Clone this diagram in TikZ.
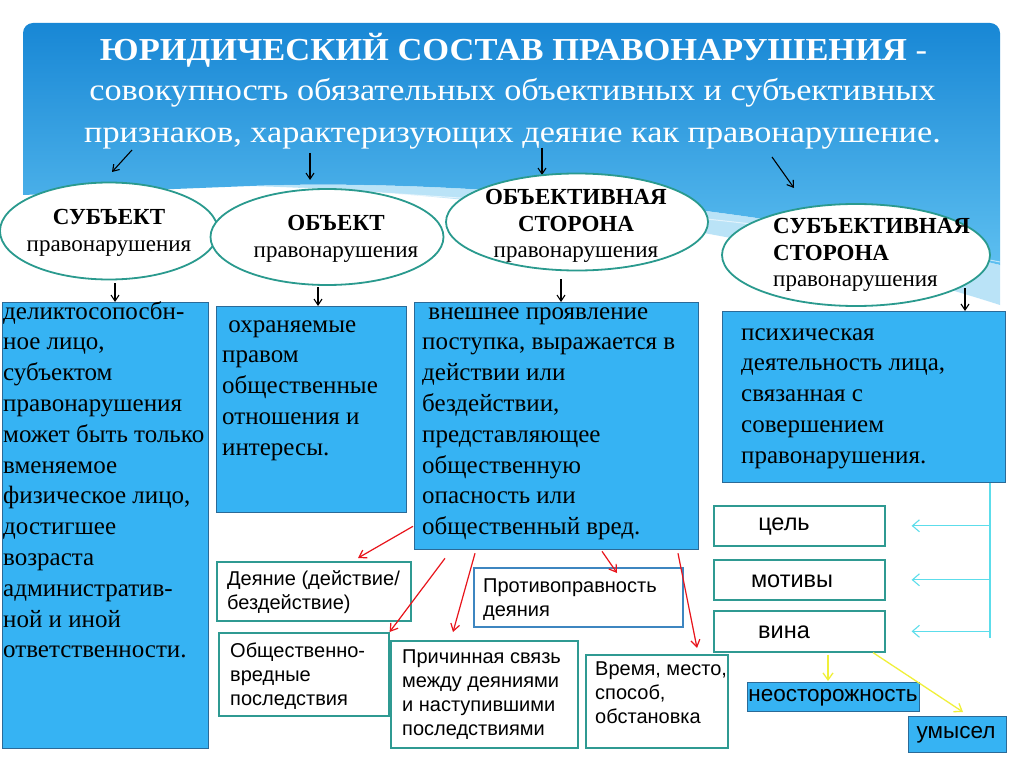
\documentclass[tikz,border=0pt]{standalone}
\usepackage{fontspec}
\setmainfont{Liberation Serif}
\setsansfont{Liberation Sans}
\usetikzlibrary{arrows.meta,shapes.geometric,calc}
\definecolor{panelTop}{HTML}{1887D5}
\definecolor{panelBot}{HTML}{5DBFF0}
\definecolor{bandBlue}{HTML}{9ED8F5}
\definecolor{boxBlue}{HTML}{36B3F3}
\definecolor{boxBorder}{HTML}{2B6A97}
\definecolor{ellTeal}{HTML}{2A9A8E}
\definecolor{wTeal}{HTML}{2F9A92}
\definecolor{wBlue}{HTML}{3E86C0}
\definecolor{redArrow}{HTML}{E8141B}
\definecolor{cyanArrow}{HTML}{5CDDEB}
\definecolor{yellowArrow}{HTML}{F0F03A}
\tikzset{
  ell/.style={ellipse, draw=ellTeal, line width=1.8pt, fill=white, inner sep=0pt},
  bluebox/.style={rectangle, draw=boxBorder, line width=1.3pt, fill=boxBlue, inner sep=0pt, anchor=north west},
  wbox/.style={rectangle, draw=wTeal, line width=1.6pt, fill=white, inner sep=0pt, anchor=north west},
  stext/.style={font=\fontsize{25}{30.8}\selectfont, align=left, inner sep=0pt, anchor=north west},
  etext/.style={font=\fontsize{23}{26.5}\selectfont, inner sep=0pt},
  wtext/.style={font=\sffamily\fontsize{20}{24}\selectfont, align=left, inner sep=0pt, anchor=north west},
  ctext/.style={font=\sffamily\fontsize{23.5}{27}\selectfont, inner sep=0pt},
  ftext/.style={font=\sffamily\fontsize{22.5}{26}\selectfont, inner sep=0pt},
  ttext/.style={text=white, inner sep=0pt, anchor=base},
  blk/.style={draw=black, line width=1.1pt, -{Straight Barb[length=6pt,width=8pt]}},
  redar/.style={draw=redArrow, line width=1.2pt, -{Straight Barb[length=7pt,width=9pt]}},
  cyanar/.style={draw=cyanArrow, line width=1.1pt, -{Straight Barb[length=7pt,width=12pt]}},
  cyanln/.style={draw=cyanArrow, line width=1.1pt},
  yelar/.style={draw=yellowArrow, line width=1.3pt, -{Straight Barb[length=7pt,width=10pt]}}
}
\begin{document}
\begin{tikzpicture}[x=1pt,y=-1pt]
\useasboundingbox (0,0) rectangle (1024,767);
\fill[white] (0,0) rectangle (1024,767);
% header panel
\shade[top color=panelTop, bottom color=panelBot]
  (23,195) -- (23,100) [rounded corners=10pt] -- (23,23) -- (1000,23) -- (1000,100) [sharp corners] -- (1000,265)
  .. controls (760,205) and (450,178) .. (250,186) -- cycle;
\fill[bandBlue, opacity=0.7] (1000,265) .. controls (760,205) and (450,178) .. (250,186)
  .. controls (470,192) and (760,228) .. (1000,305) -- cycle;
\draw[white, opacity=0.6, line width=1pt] (300,188) .. controls (500,200) and (760,215) .. (1000,262);
% title
\node[ttext, font=\fontsize{32}{38}\selectfont] (t1) at (513.5,61) {\scalebox{1.077}[1]{\textbf{ЮРИДИЧЕСКИЙ СОСТАВ ПРАВОНАРУШЕНИЯ} -}};
\node[ttext, font=\fontsize{31}{36}\selectfont] (t2) at (512.5,101) {\scalebox{1.105}[1]{совокупность обязательных объективных и субъективных}};
\node[ttext, font=\fontsize{31}{36}\selectfont] (t3) at (512.5,143) {\scalebox{1.105}[1]{признаков, характеризующих деяние как правонарушение.}};
% title arrows
\coordinate (ta1) at (132,150); \coordinate (ta1e) at (112,172);
\coordinate (ta2) at (310,153); \coordinate (ta2e) at (310,180);
\coordinate (ta3) at (542,148); \coordinate (ta3e) at (542,175);
\coordinate (ta4) at (772,157); \coordinate (ta4e) at (794,188);
\draw[blk] (ta1) -- (ta1e);
\draw[blk] (ta2) -- (ta2e);
\draw[blk] (ta3) -- (ta3e);
\draw[blk] (ta4) -- (ta4e);
% ellipses
\node[ell, minimum width=218pt, minimum height=97pt] (e1) at (109,231) {};
\node[ell, minimum width=233pt, minimum height=96pt] (e2) at (327,237) {};
\node[ell, minimum width=262pt, minimum height=97pt] (e3) at (577,222) {};
\node[ell, minimum width=268pt, minimum height=102pt] (e4) at (856,255) {};
\node[etext, align=center, anchor=north] (e1t) at (109,205.8) {\strut\textbf{СУБЪЕКТ}\\правонарушения};
\node[etext, align=center, anchor=north] (e2t) at (336,211.8) {\strut\textbf{ОБЪЕКТ}\\правонарушения};
\node[etext, align=center, anchor=north] (e3t) at (576,185.8) {\strut\textbf{ОБЪЕКТИВНАЯ}\\\textbf{СТОРОНА}\\правонарушения};
\node[etext, align=left, anchor=north west] (e4t) at (773,214.8) {\strut\textbf{СУБЪЕКТИВНАЯ}\\\textbf{СТОРОНА}\\правонарушения};
% blue boxes
\node[bluebox, minimum width=206pt, minimum height=446pt] (b1) at (2,302) {};
\node[bluebox, minimum width=190pt, minimum height=206pt] (b2) at (216,306) {};
\node[bluebox, minimum width=284pt, minimum height=247pt] (b3) at (414,302) {};
\node[bluebox, minimum width=283pt, minimum height=171pt] (b4) at (722,311) {};
\node[stext] (b1t) at (3,297.4) {\strut деликтосопосбн-\\ное лицо,\\субъектом\\правонарушения\\может быть только\\вменяемое\\физическое лицо,\\достигшее\\возраста\\административ-\\ной и иной\\ответственности.};
\node[stext] (b2t) at (222,310.4) {\strut\ охраняемые\\правом\\общественные\\отношения и\\интересы.};
\node[stext] (b3t) at (422,297.4) {\strut\ внешнее проявление\\поступка, выражается в\\действии или\\бездействии,\\представляющее\\общественную\\опасность или\\общественный вред.};
\node[stext] (b4t) at (741,318.4) {\strut психическая\\деятельность лица,\\связанная с\\совершением\\правонарушения.};
% ellipse -> box arrows
\coordinate (a1) at (115,283); \draw[blk] (a1) -- (a1 |- b1.north);
\coordinate (a2) at (318,287); \draw[blk] (a2) -- (a2 |- b2.north);
\coordinate (a3) at (561,279); \draw[blk] (a3) -- (a3 |- b3.north);
\coordinate (a4) at (965,288); \draw[blk] (a4) -- (a4 |- b4.north);
% white boxes
\node[wbox, minimum width=194pt, minimum height=59pt] (dey) at (216,561) {};
\node[wbox, draw=wBlue, minimum width=209pt, minimum height=59pt] (prot) at (473,567) {};
\node[wbox, minimum width=170pt, minimum height=83pt] (obs) at (218,632) {};
\node[wbox, minimum width=187pt, minimum height=107pt] (pri) at (390,640) {};
\node[wbox, minimum width=142pt, minimum height=93pt] (vre) at (585,654) {};
\node[wtext] (deyt) at (227,568) {\strut Деяние (действие/\\бездействие)};
\node[wtext] (prott) at (483,575) {\strut Противоправность\\деяния};
\node[wtext] (obst) at (230,640) {\strut Общественно-\\вредные\\последствия};
\node[wtext] (prit) at (402,646) {\strut Причинная связь\\между деяниями\\и наступившими\\последствиями};
\node[wtext] (vret) at (595,658) {\strut Время, место,\\способ,\\обстановка};
% red arrows
\draw[redar] ($(b3.south west)+(-1,-24)$) -- ($(dey.north west)+(142,-3)$);
\draw[redar] ($(b3.south west)+(31,8)$) -- (obs.north east);
\draw[redar] ($(b3.south west)+(61,3)$) -- ($(pri.north west)+(63,-8)$);
\draw[redar] ($(b3.south west)+(188,1)$) -- ($(prot.north west)+(144,6)$);
\draw[redar] ($(b3.south west)+(264,3)$) -- ($(vre.north west)+(112,-6)$);
% right column
\node[wbox, minimum width=171pt, minimum height=40pt] (cel) at (713,505) {};
\node[wbox, minimum width=171pt, minimum height=40pt] (mot) at (713,559) {};
\node[wbox, minimum width=171pt, minimum height=41pt] (vin) at (713,610) {};
\node[ctext] (celt) at (784,527) {цель};
\node[ctext] (mott) at (792,581) {мотивы};
\node[ctext] (vint) at (784,632) {вина};
\coordinate (cy) at (990,638);
\draw[cyanln] (b4.south -| cy) -- (cy);
\draw[cyanar] (cel.east -| cy) -- ([xshift=26pt]cel.east);
\draw[cyanar] (mot.east -| cy) -- ([xshift=26pt]mot.east);
\draw[cyanar] (vin.east -| cy) -- ([xshift=26pt]vin.east);
\node[bluebox, minimum width=172pt, minimum height=29pt] (neo) at (747,682) {};
\node[bluebox, minimum width=98pt, minimum height=36pt] (umy) at (908,716) {};
\node[ftext] (neot) at (833,698) {неосторожность};
\node[ftext] (umyt) at (956,735) {умысел};
\draw[yelar] ($(vin.south west)+(115,2)$) -- ($(neo.north west)+(81,-1)$);
\draw[yelar] ($(vin.south west)+(160,0)$) -- ($(umy.north west)+(55,-4)$);
\end{tikzpicture}
\end{document}
